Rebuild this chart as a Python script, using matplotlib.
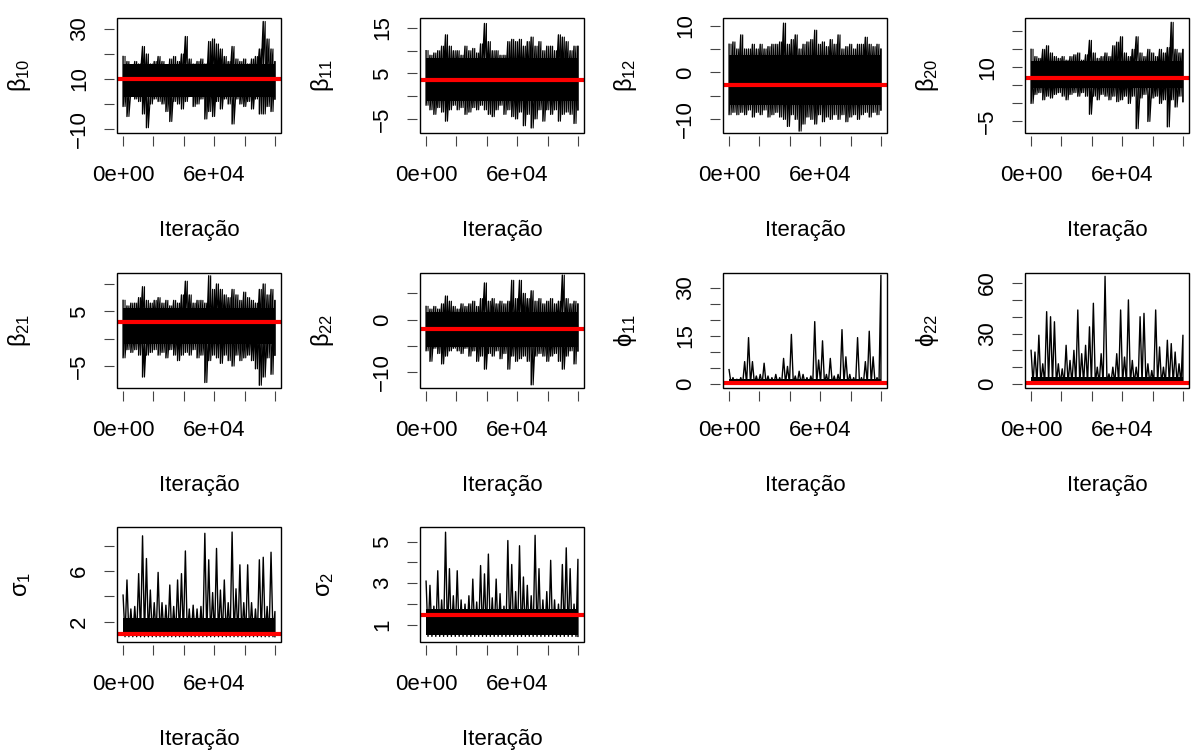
import numpy as np
import matplotlib
matplotlib.use("Agg")
import matplotlib.pyplot as plt
from matplotlib.patches import Rectangle

plt.rcParams['font.family'] = ['Liberation Sans', 'DejaVu Sans']
plt.rcParams['mathtext.fontset'] = 'custom'
plt.rcParams['mathtext.rm'] = 'Liberation Sans'
plt.rcParams['mathtext.it'] = 'Liberation Sans'
plt.rcParams['mathtext.bf'] = 'Liberation Sans:bold'

n_iter = 100000

# upper / lower extremes of each chain, read at 40 evenly spaced spots
b10_hi = [19, 17, 15, 17, 16, 23, 20, 16, 17, 19, 17, 15, 18, 19, 17, 20, 27, 18, 16, 17,
          18, 16, 25, 26, 24, 22, 19, 17, 23, 18, 17, 18, 16, 18, 19, 22, 33, 26, 22, 17]
b10_lo = [-1, -5, 3, 2, 1, -4, -9.5, 0, 2, 1, 0, -3, -7, 1, 0, -2, 1, 3, -1, 0,
          2, -6, -3, -5, 1, -2, 2, 0, -8, 2, 0, -1, 1, -2, 2, -4, -4, -1, -3, 2]
b11_hi = [10, 9, 9.5, 10, 11, 13.5, 11, 10, 10, 9, 11, 10, 10.5, 9.5, 11.5, 16, 12, 10, 10, 9,
          9, 12, 12.5, 12, 12.5, 11, 12, 13, 11, 12, 10, 11, 11, 10, 13.5, 13, 12, 10, 11, 11]
b11_lo = [-2, -3, -4, -2.5, -3.5, -5.5, -3, -2, -3, -2.5, -4, -3.5, -2.5, -3, -2, -3, -4, -4.5, -3, -2,
          -4, -3, -4.5, -5, -3.5, -6.5, -4, -7, -5, -3, -5.5, -3, -4, -3, -5.5, -4, -3.5, -4, -6, -3]
b12_hi = [6, 6.5, 5, 8, 5, 5, 6, 5, 6, 5, 5.5, 6, 6, 6.5, 10.5, 6, 7, 8, 5, 6,
          6.5, 7, 9, 6, 6.5, 5.5, 7, 6, 8, 5, 5.5, 6, 5, 6, 6, 7.5, 6, 5.5, 6, 5]
b12_lo = [-9, -8.5, -9, -8.5, -9, -8, -9.5, -8.5, -9, -8, -9.5, -9, -8.5, -9.5, -10, -11.5, -9, -10, -12.5, -11,
          -9.5, -10, -11, -9, -10.5, -9.5, -10, -9, -10, -9, -10.5, -9.5, -9, -10, -9, -8.5, -9.5, -8.5, -9, -8]
b20_hi = [15, 13, 12.5, 15, 16, 14, 13, 12.5, 13, 12, 13, 13.5, 14, 12, 13.5, 17.5, 14, 12.5, 13, 14,
          13, 16, 17, 18.5, 14, 13, 15, 18.5, 14, 13, 15, 14, 13, 15, 14, 15.5, 22.5, 15, 14, 15]
b20_lo = [0, 2.5, 3, 1, 2, 1.5, 2.5, 3, 2, 1, 2.5, 3, 2, 3, 2, -3, 2, 1, 2.5, 2,
          1, 2, 0.5, 1, 2, 0, 2, -7, 1.5, 2.5, -5, 1.5, 2, 0, 1, -6.5, 1, -1, 2, 0.5]
b21_hi = [7, 6, 6.5, 6.5, 7.5, 9.5, 7, 6.5, 7, 7.5, 6.5, 7, 6, 7, 6.5, 8, 10.5, 8, 6.5, 7,
          7, 6.5, 11.5, 9, 10, 9, 8, 7.5, 9, 8, 7, 8.5, 7.5, 7, 6.5, 9, 10, 8, 9, 7]
b21_lo = [-3.5, -2, -2.5, -2, -3, -7, -3, -2.5, -2, -3, -2.5, -3.5, -2, -3, -4, -3, -2.5, -3, -2, -3.5,
          -3, -8, -4, -3, -3.5, -4.5, -3, -4, -5, -3, -4, -3.5, -3, -4, -5.5, -8.5, -7, -3.5, -6.5, -3]
b22_hi = [2.5, 2, 2.5, 2, 3, 4.5, 3.5, 2.5, 2, 3, 2.5, 3, 3.5, 2.5, 4, 7, 3.5, 4, 3, 3.5,
          3, 3.5, 7.5, 4, 7.5, 5, 4, 5.5, 3.5, 4, 3, 3.5, 4, 3, 3.5, 8.5, 4, 3, 3.5, 3]
b22_lo = [-6, -8, -5.5, -6.5, -8.5, -7, -6, -5.5, -6, -6.5, -5.5, -7, -6, -8, -7, -9.5, -6.5, -7, -6, -7.5,
          -6.5, -9.5, -7, -8, -7.5, -7, -8, -12.5, -7, -6.5, -7, -8, -7, -6.5, -8, -9.5, -7, -6, -8.5, -6]
phi11_hi = [4.5, 2, 1.5, 2, 7, 14.5, 7, 2.5, 3, 6.5, 2.5, 2, 3, 2, 8, 5.5, 15.5, 2.5, 4, 3,
            2, 2.5, 19.5, 7.5, 13.5, 3, 8, 2.5, 3, 17, 8.5, 3, 2, 14.5, 2, 7, 16.5, 8.5, 2, 34]
phi22_hi = [20, 19, 29, 12, 43, 40, 37, 12, 9, 23, 14, 20, 44, 18, 23, 34, 48, 10, 18, 64,
            6, 10, 18, 44, 16, 50, 14, 10, 40, 42, 12, 8, 44, 22, 10, 26, 24, 19, 12, 29]
sig1_hi = [4.1, 5.3, 3, 3.2, 5.8, 8.8, 7, 4.5, 3.5, 5.9, 3.5, 3.3, 4.9, 3.2, 5.3, 5.8, 7.6, 3, 3.3, 3,
           3.2, 9, 6.9, 4.3, 7.8, 4.5, 5.3, 3.5, 9.1, 4.6, 6.5, 3.5, 6.5, 3.5, 3, 6.9, 7.1, 3.2, 7.5, 2.8]
sig2_hi = [3.1, 2.9, 1.9, 3.6, 2.2, 5.45, 3.7, 2.4, 3.6, 2.2, 2.0, 2.4, 3.2, 2.1, 3.85, 3.45, 4.4, 2.3, 3.2, 2.5,
           1.9, 5.05, 3.9, 2.6, 4.8, 3.3, 2.9, 2.4, 5.3, 3.7, 2.2, 2.6, 4.1, 2.2, 2.0, 3.9, 4.7, 3.7, 2.0, 4.15]
# floor of the skewed chains
phi11_floor = 0.1
phi22_floor = 0.2
sig1_floor = 0.8
sig2_floor = 0.45

# dense central band of each chain (low, high)
cores = [(3, 16), (-1, 8.5), (-7, 3.7), (4.3, 11.7), (-1, 5.7), (-5.3, 1.4),
         (0.05, 1.5), (0.1, 4), (0.85, 2.3), (0.5, 1.75)]
# posterior mean (red line)
means = [9.9, 3.55, -2.6, 7.0, 3.05, -1.9, 0.2, 0.5, 1.03, 1.5]

labels = [r'$\beta_{10}$', r'$\beta_{11}$', r'$\beta_{12}$', r'$\beta_{20}$', r'$\beta_{21}$',
          r'$\beta_{22}$', r'$\phi_{11}$', r'$\phi_{22}$', r'$\sigma_{1}$', r'$\sigma_{2}$']
his = [b10_hi, b11_hi, b12_hi, b20_hi, b21_hi, b22_hi, phi11_hi, phi22_hi, sig1_hi, sig2_hi]
los = [b10_lo, b11_lo, b12_lo, b20_lo, b21_lo, b22_lo,
       phi11_floor, phi22_floor, sig1_floor, sig2_floor]
ylims = [(-11.6, 34.4), (-8.1, 17.2), (-12.9, 11.6), (-8.2, 23.7), (-9, 12),
         (-13.1, 8.9), (-1.25, 34.7), (-2.4, 66), (0.38, 9.5), (0.18, 5.7)]
yticks = [[-10, 0, 10, 20, 30], [-5, 0, 5, 10, 15], [-10, -5, 0, 5, 10], [-5, 0, 5, 10, 15, 20],
          [-5, 0, 5, 10], [-10, -5, 0, 5], [0, 5, 10, 15, 20, 25, 30], [0, 10, 20, 30, 40, 50, 60],
          [2, 4, 6, 8], [1, 2, 3, 4, 5]]
ytick_shown = [[-10, 10, 30], [-5, 5, 15], [-10, 0, 10], [-5, 10], [-5, 5], [-10, 0],
               [0, 15, 30], [0, 30, 60], [2, 6], [1, 3, 5]]
xticks = [0, 20000, 40000, 60000, 80000, 100000]
xtick_labels = ['0e+00', '', '', '6e+04', '', '']

W, H = 1191, 753
fig = plt.figure(figsize=(W / 100, H / 100), dpi=100)
lefts = [117, 420, 723, 1025]
tops = [18, 273, 527]
bw, bh = 164, 115

for k in range(10):
    r, c = divmod(k, 4)
    ax = fig.add_axes([lefts[c] / W, 1 - (tops[r] + bh) / H, bw / W, bh / H])
    hi = np.asarray(his[k], dtype=float)
    n = len(hi)
    it = np.linspace(1, n_iter, n)
    half = (it[1] - it[0]) / 2
    ax.fill_between([1, n_iter], cores[k][0], cores[k][1], color='black', lw=0)
    if np.ndim(los[k]):
        # symmetric chains: vertical swing at each spot plus diagonals, drawn twice shifted
        lo = np.asarray(los[k], dtype=float)
        xs = np.repeat(it, 2)
        ys = np.empty(2 * n)
        ys[0::2] = hi
        ys[1::2] = lo
        ax.plot(xs, ys, color='black', lw=1.0)
        ax.plot(np.clip(xs + half, 1, n_iter), ys, color='black', lw=0.8)
    else:
        # skewed chains: thin spikes up from the floor
        xs = np.empty(2 * n)
        xs[0::2] = it
        xs[1::2] = np.clip(it + half, 1, n_iter)
        ys = np.full(2 * n, float(los[k]))
        ys[0::2] = hi
        ax.plot(xs, ys, color='black', lw=1.0)
    ax.axhline(means[k], color='red', lw=3)
    ax.set_xlim(-3999, 104000)
    ax.set_ylim(*ylims[k])

    ax.set_xticks(xticks)
    ax.set_xticklabels(xtick_labels)
    ax.set_yticks(yticks[k])
    ax.set_yticklabels([('%g' % v).replace('-', '\u2212') if v in ytick_shown[k] else ''
                        for v in yticks[k]])
    for s in ax.spines.values():
        s.set_visible(False)
    ax.spines['bottom'].set_position(('outward', 2))
    ax.spines['left'].set_position(('outward', 2))
    ax.add_patch(Rectangle((0, 0), 1, 1, transform=ax.transAxes, fill=False,
                           lw=1.0, color='black', clip_on=False, zorder=5))
    ax.tick_params(axis='both', direction='out', length=7.2, width=0.8, color='#444444',
                   labelsize=16)
    ax.tick_params(axis='x', pad=14)
    ax.tick_params(axis='y', pad=10, labelrotation=90)
    for t in ax.get_yticklabels():
        t.set_va('center')
    ax.set_xlabel('Iteração', fontsize=16, labelpad=24)
    ax.set_ylabel(labels[k], fontsize=17, labelpad=26)

fig.savefig('out.png', dpi=100)
